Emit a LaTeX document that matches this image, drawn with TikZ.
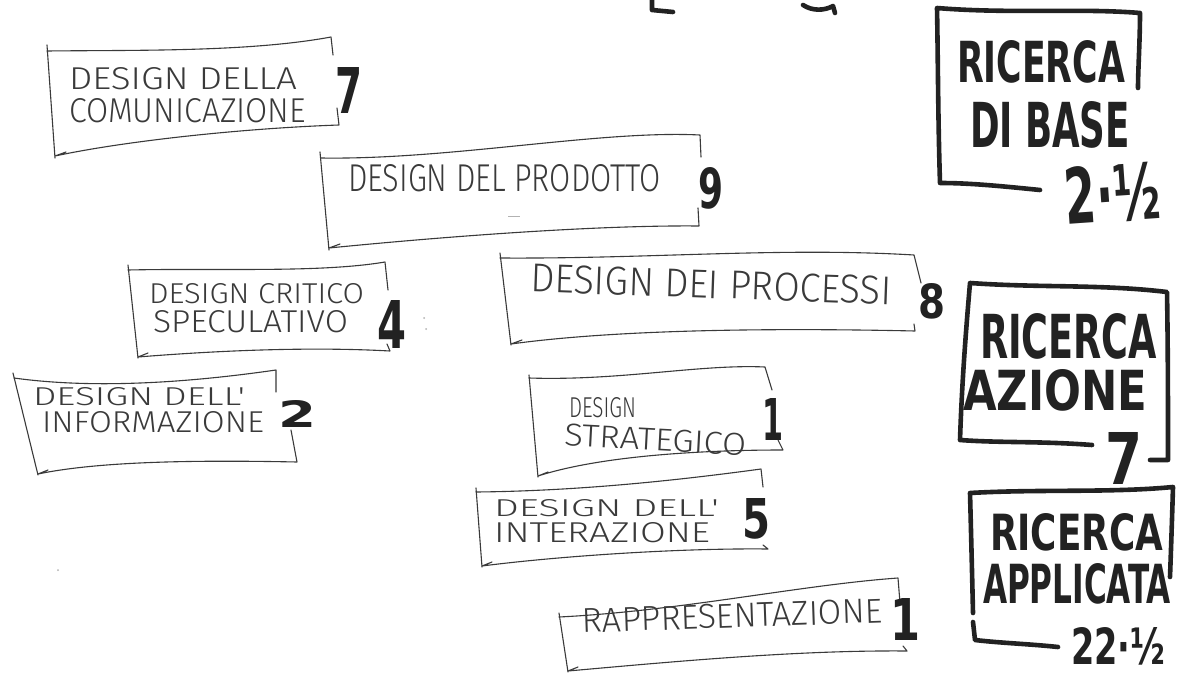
\documentclass[tikz,border=0pt]{standalone}
\usepackage{fontspec}
\usepackage{graphicx}
\newfontfamily\penfont{Fira Sans Light}
\newfontfamily\markerfont{DejaVu Sans Condensed}
\definecolor{ink}{HTML}{222222}
\definecolor{pencil}{HTML}{3A3A3A}
\newcommand{\fitto}[3]{\resizebox{#1pt}{#2pt}{#3}}
\tikzset{
  pen/.style={draw=pencil, line width=1.1pt, line cap=round, line join=round},
  marker/.style={draw=ink, line width=4.6pt, line cap=round, line join=round},
  lbl/.style={inner sep=0pt, outer sep=0pt, anchor=north west, text=pencil},
  big/.style={inner sep=0pt, outer sep=0pt, anchor=north west, text=ink},
}
\begin{document}
\begin{tikzpicture}[x=1pt, y=-1pt]
\useasboundingbox[fill=white] (0,0) rectangle (1178,677);

% ---------- thin banner boxes ----------
% design della comunicazione
\draw[pen] (47,45) -- (55,158);
\draw[pen] (47,51) .. controls (140,50) and (250,52) .. (331,37) -- (333,55);
\draw[pen] (337,108) -- (339,125) .. controls (250,128) and (130,140) .. (55,156) -- (66,152);
% design del prodotto
\draw[pen] (320,152) -- (329,250);
\draw[pen] (321,158) .. controls (450,160) and (600,130) .. (700,135) -- (701,157);
\draw[pen] (698,208) -- (699,226) .. controls (600,225) and (450,236) .. (329,248) -- (340,244);
% design critico speculativo
\draw[pen] (128,265) -- (138,358);
\draw[pen] (128,270) .. controls (220,268) and (320,273) .. (385,262) -- (388,290);
\draw[pen] (387,344) -- (390,351) .. controls (300,346) and (200,352) .. (138,357) -- (148,353);
% design dei processi
\draw[pen] (500,253) -- (511,345);
\draw[pen] (500,258) .. controls (650,259) and (780,247) .. (914,255) -- (921,283);
\draw[pen] (914,324) -- (915,331) .. controls (780,328) and (620,329) .. (511,344) -- (522,340);
% design dell'informazione
\draw[pen] (13,373) -- (38,475);
\draw[pen] (14,378) .. controls (100,390) and (200,381) .. (276,370) -- (276,392);
\draw[pen] (291,430) -- (297,462) .. controls (200,460) and (100,461) .. (38,474) -- (48,470);
% design strategico
\draw[pen] (529,375) -- (538,477);
\draw[pen] (529,378) .. controls (620,381) and (700,364) .. (765,367) -- (772,390);
\draw[pen] (778,440) -- (783,450) .. controls (700,450) and (600,456) .. (538,476) -- (548,472);
% design dell'interazione
\draw[pen] (476,488) -- (482,567);
\draw[pen] (476,492) .. controls (580,491) and (680,480) .. (761,469) -- (763,487);
\draw[pen] (763,545) -- (768,549) .. controls (680,548) and (560,556) .. (482,566) -- (492,562);
% rappresentazione
\draw[pen] (559,613) -- (568,672);
\draw[pen] (559,617) .. controls (680,611) and (800,585) .. (898,578) -- (900,603);
\draw[pen] (903,646) -- (907,651) .. controls (800,650) and (680,661) .. (568,671) -- (578,667);

% stray pencil marks
\draw[draw=gray!60, line width=0.8pt] (508,216) -- (520,216);
\fill[gray!60] (424,318) circle (1pt) (426,329) circle (1pt) (58,570) circle (1pt);

% ---------- thin labels ----------
\node[lbl] (comA) at (69,67) {\fitto{228}{22}{\penfont DESIGN DELLA}};
\node[lbl] (comB) at (69,98) {\fitto{237}{24}{\penfont COMUNICAZIONE}};
\node[lbl] (prod) at (348,164) {\fitto{313}{27}{\penfont DESIGN DEL PRODOTTO}};
\node[lbl] (critA) at (149,283) {\fitto{215}{20}{\penfont DESIGN CRITICO}};
\node[lbl] (critB) at (153,310) {\fitto{195}{22}{\penfont SPECULATIVO}};
\node[lbl, rotate=-2] (proc) at (531,264) {\fitto{361}{28}{\penfont DESIGN DEI PROCESSI}};
\node[lbl] (infA) at (33,387) {\fitto{212}{18}{\penfont DESIGN DELL'}};
\node[lbl] (infB) at (42,411) {\fitto{222}{21}{\penfont INFORMAZIONE}};
\node[lbl] (strA) at (569,397) {\fitto{67}{20}{\penfont DESIGN}};
\node[lbl, rotate=-3] (strB) at (565,424) {\fitto{182}{22}{\penfont STRATEGICO}};
\node[lbl] (intA) at (494,499) {\fitto{225}{17}{\penfont DESIGN DELL'}};
\node[lbl] (intB) at (494,522) {\fitto{216}{20}{\penfont INTERAZIONE}};
\node[lbl, rotate=2] (rapp) at (582,609) {\fitto{300}{24}{\penfont RAPPRESENTAZIONE}};

% ---------- marker numbers ----------
\node[big] (nCom) at (335,67) {\fitto{27}{46}{\markerfont\bfseries 7}};
\node[big] (nProd) at (698,167) {\fitto{25}{41}{\markerfont\bfseries 9}};
\node[big] (nCrit) at (377,300) {\fitto{29}{48}{\markerfont\bfseries 4}};
\node[big] (nProc) at (918,283) {\fitto{27}{35}{\markerfont\bfseries 8}};
\node[big] (nInf) at (278,400) {\fitto{38}{27}{\markerfont\bfseries 2}};
\node[big] (nStr) at (762,398) {\fitto{21}{42}{\markerfont\bfseries 1}};
\node[big] (nInt) at (742,498) {\fitto{28}{40}{\markerfont\bfseries 5}};
\node[big] (nRapp) at (890,598) {\fitto{30}{42}{\markerfont\bfseries 1}};

% ---------- marker boxes ----------
% ricerca di base
\draw[marker] (1040,190) .. controls (1000,186) and (970,183) .. (940,183)
  .. controls (938,120) and (938,60) .. (937,8)
  .. controls (1010,14) and (1080,8) .. (1140,13)
  .. controls (1140,40) and (1138,70) .. (1138,88);
\node[big] (rbA) at (957,40) {\fitto{168}{42}{\markerfont\bfseries RICERCA}};
\node[big] (rbB) at (970,101) {\fitto{160}{46}{\markerfont\bfseries DI BASE}};
\node[big, rotate=4] (rbN) at (1063,168) {\fitto{95}{57}{\markerfont\bfseries 2·½}};

% ricerca azione
\draw[marker] (1092,445) .. controls (1040,441) and (1000,443) .. (960,440)
  .. controls (962,380) and (966,330) .. (970,283)
  .. controls (1040,288) and (1100,284) .. (1167,292)
  .. controls (1168,350) and (1168,410) .. (1168,460) -- (1150,460);
\node[big] (raA) at (980,313) {\fitto{177}{45}{\markerfont\bfseries RICERCA}};
\node[big] (raB) at (963,369) {\fitto{184}{41}{\markerfont\bfseries AZIONE}};
\node[big] (raN) at (1105,432) {\fitto{37}{52}{\markerfont\bfseries 7}};

% ricerca applicata
\draw[marker] (973,613) .. controls (972,570) and (971,530) .. (970,493)
  .. controls (1040,489) and (1110,493) .. (1173,487)
  .. controls (1172,520) and (1171,550) .. (1170,577);
\draw[marker] (973,622) -- (975,640) .. controls (1000,643) and (1030,644) .. (1058,647);
\node[big] (rpA) at (990,513) {\fitto{173}{37}{\markerfont\bfseries RICERCA}};
\node[big] (rpB) at (983,563) {\fitto{188}{40}{\markerfont\bfseries APPLICATA}};
\node[big] (rpN) at (1071,627) {\fitto{94}{37}{\markerfont\bfseries 22·½}};

% marker strokes cut by the top edge
\draw[marker] (652,-3) -- (652,10) -- (673,12);
\draw[marker] (803,5) .. controls (812,11) and (824,11) .. (833,6) -- (835,13);
\end{tikzpicture}
\end{document}
